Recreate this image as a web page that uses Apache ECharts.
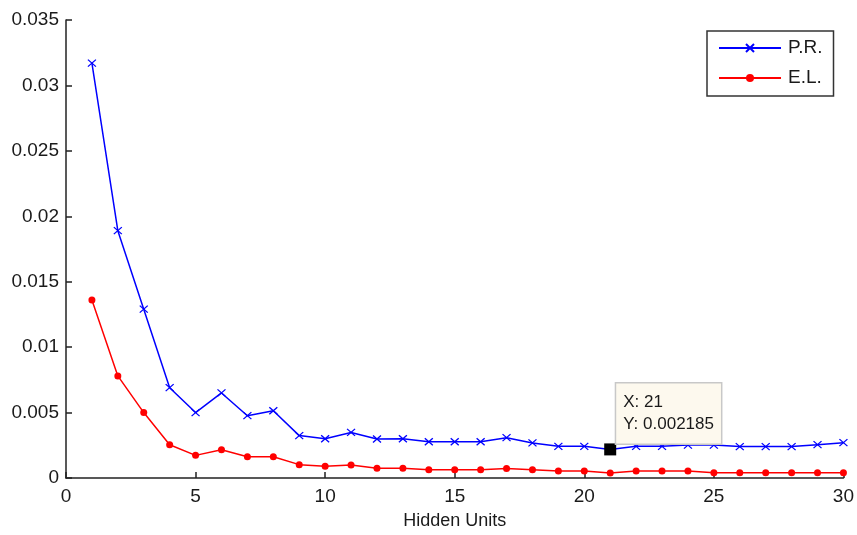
<!DOCTYPE html>
<html>
<head>
<meta charset="utf-8">
<script src="https://cdn.jsdelivr.net/npm/echarts@6/dist/echarts.min.js"></script>
<style>
html,body{margin:0;padding:0;background:#fff;}
#chart{width:857px;height:535px;}
</style>
</head>
<body>
<div id="chart"></div>
<script>
var hiddenUnits = [1,2,3,4,5,6,7,8,9,10,11,12,13,14,15,16,17,18,19,20,21,22,23,24,25,26,27,28,29,30];
var prValues = [0.0317,0.0189,0.0129,0.0069,0.0050,0.0065,0.00476,0.00514,0.00324,0.00300,0.00348,0.00298,0.00300,0.00277,0.00277,0.00277,0.00308,0.00268,0.00242,0.00242,0.002185,0.00242,0.00242,0.00252,0.00252,0.00240,0.00240,0.00240,0.00255,0.00270];
var elValues = [0.0136,0.0078,0.0050,0.00254,0.00173,0.00216,0.00163,0.00163,0.00102,0.00090,0.00100,0.00075,0.00075,0.00063,0.00063,0.00063,0.00073,0.00063,0.00053,0.00053,0.00038,0.00053,0.00053,0.00053,0.00040,0.00040,0.00040,0.00040,0.00040,0.00040];
var dataTip = {x: 21, y: 0.002185};
var seriesNames = ['P.R.', 'E.L.'];
var xAxisName = 'Hidden Units';

function pairs(xs, ys){ return xs.map(function(x,i){ return [x, ys[i]]; }); }

var FONT = '"Liberation Sans", Arial, sans-serif';
var chart = echarts.init(document.getElementById('chart'), null, {renderer:'canvas'});
chart.setOption({
  animation: false,
  backgroundColor: '#ffffff',
  grid: {left: 66, right: 11, top: 20, bottom: 57, containLabel: false},
  xAxis: {
    type: 'value', min: 0, max: 30, interval: 5,
    name: xAxisName, nameLocation: 'middle', nameGap: 34,
    nameTextStyle: {fontFamily: FONT, fontSize: 18, color: '#1a1a1a'},
    axisLine: {show: true, onZero: false, lineStyle: {color: '#222', width: 1.5}},
    axisTick: {show: true, inside: true, length: 6, lineStyle: {color: '#222', width: 1.5}},
    axisLabel: {fontFamily: FONT, fontSize: 19, color: '#1a1a1a', margin: 9},
    splitLine: {show: false}
  },
  yAxis: {
    type: 'value', min: 0, max: 0.035, interval: 0.005,
    axisLine: {show: true, lineStyle: {color: '#222', width: 1.5}},
    axisTick: {show: true, inside: true, length: 6, lineStyle: {color: '#222', width: 1.5}},
    axisLabel: {fontFamily: FONT, fontSize: 19, color: '#1a1a1a', margin: 7},
    splitLine: {show: false}
  },
  legend: {
    data: seriesNames,
    orient: 'vertical',
    left: 707, top: 31,
    padding: [7, 11, 8, 11],
    itemGap: 10,
    itemWidth: 62, itemHeight: 10,
    borderColor: '#333', borderWidth: 1.5,
    backgroundColor: '#fff',
    textStyle: {fontFamily: FONT, fontSize: 19, color: '#1a1a1a', lineHeight: 20, padding: [0,0,0,2]}
  },
  series: [
    {
      name: seriesNames[0], type: 'line', data: pairs(hiddenUnits, prValues),
      lineStyle: {color: '#0000ff', width: 1.5},
      symbol: 'path://M0,0L10,10M10,0L0,10', symbolSize: [8, 7], symbolKeepAspect: false,
      showAllSymbol: true,
      itemStyle: {color: '#0000ff', borderColor: '#0000ff', borderWidth: 1.2},
      z: 3
    },
    {
      name: seriesNames[1], type: 'line', data: pairs(hiddenUnits, elValues),
      lineStyle: {color: '#ff0000', width: 1.5},
      symbol: 'circle', symbolSize: 7,
      showAllSymbol: true,
      itemStyle: {color: '#ff0000', borderWidth: 0},
      z: 3
    },
    {
      name: 'datatip', type: 'scatter', data: [[dataTip.x, dataTip.y]],
      symbol: 'rect', symbolSize: 12,
      itemStyle: {color: '#000', opacity: 1},
      emphasis: {disabled: true},
      z: 10,
      label: {
        show: true, position: [12, -60], align: 'left', verticalAlign: 'top',
        formatter: function(p){ return 'X: ' + p.value[0] + '\nY: ' + p.value[1]; },
        fontFamily: FONT, fontSize: 17, color: '#1a1a1a', lineHeight: 22,
        backgroundColor: '#fdf9ee', borderColor: '#c8c8c8', borderWidth: 1.5,
        padding: [8, 7, 8, 7], opacity: 1
      }
    }
  ]
});
</script>
</body>
</html>
